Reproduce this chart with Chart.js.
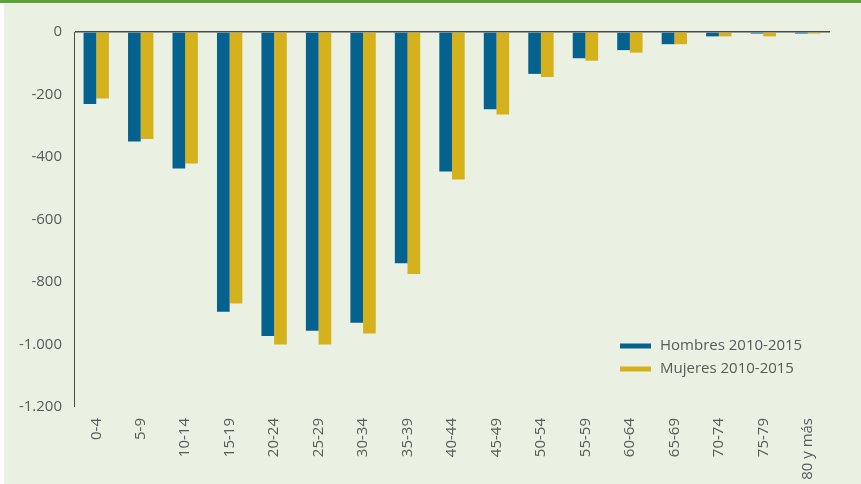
<!DOCTYPE html>
<html>
<head>
<meta charset="utf-8">
<script src="https://cdn.jsdelivr.net/npm/chart.js@4"></script>
<style>
  html, body { margin: 0; padding: 0; background: #ffffff; }
  #wrap { position: relative; width: 861px; height: 484px; background: #eaf0e2; overflow: hidden; }
  #topbar { position: absolute; left: 0; top: 0; width: 861px; height: 3px; background: #5ea33a; }
  #leftstrip { position: absolute; left: 0; top: 3px; width: 4px; height: 481px; background: #ffffff; }
  canvas { position: absolute; left: 0; top: 0; }
</style>
</head>
<body>
<div id="wrap">
  <canvas id="c" width="861" height="484"></canvas>
  <div id="topbar"></div>
  <div id="leftstrip"></div>
</div>
<script>
const categories = ["0-4","5-9","10-14","15-19","20-24","25-29","30-34","35-39","40-44","45-49","50-54","55-59","60-64","65-69","70-74","75-79","80 y más"];
const hombres = [-230,-350,-437,-895,-973,-956,-930,-740,-446,-247,-134,-84,-58,-39,-14,-5,-5];
const mujeres = [-213,-342,-421,-869,-1000,-1000,-965,-774,-472,-264,-144,-92,-66,-39,-14,-14,-5];
const seriesLabels = ["Hombres 2010-2015","Mujeres 2010-2015"];
const yTicks = { min: -1200, max: 0, step: 200 };

const BLUE = "#05628f";
const YELLOW = "#d5b11c";
const TEXT = "#5a5a5a";
const FONT = "'Open Sans', 'Noto Sans', sans-serif";

function fmt(v) {
  const s = Math.abs(v).toString().replace(/\B(?=(\d{3})+(?!\d))/g, ".");
  return (v < 0 ? "-" : "") + s;
}

const legendPlugin = {
  id: "customLegend",
  afterDraw(chart) {
    const ctx = chart.ctx;
    ctx.save();
    ctx.font = "15px " + FONT;
    ctx.textBaseline = "middle";
    ctx.textAlign = "left";
    chart.data.datasets.forEach((ds, i) => {
      const y = 346 + i * 23;
      ctx.fillStyle = ds.backgroundColor;
      ctx.fillRect(620, y - 2.5, 31, 5);
      ctx.fillStyle = TEXT;
      ctx.fillText(ds.label, 660, y);
    });
    ctx.restore();
  }
};

new Chart(document.getElementById("c"), {
  type: "bar",
  data: {
    labels: categories,
    datasets: [
      { label: seriesLabels[0], data: hombres, backgroundColor: BLUE, borderWidth: 0 },
      { label: seriesLabels[1], data: mujeres, backgroundColor: YELLOW, borderWidth: 0 }
    ]
  },
  options: {
    responsive: false,
    animation: false,
    devicePixelRatio: 1,
    layout: { padding: { top: 32, right: 31, bottom: 0, left: 0 } },
    plugins: { legend: { display: false }, tooltip: { enabled: false } },
    datasets: { bar: { categoryPercentage: 0.57, barPercentage: 1.0 } },
    scales: {
      x: {
        grid: { display: false, drawTicks: false },
        border: { display: false },
        ticks: {
          autoSkip: false, minRotation: 90, maxRotation: 90, padding: 11,
          color: TEXT, font: { family: FONT, size: 15 }
        },
        afterFit(scale) { scale.height = 77; }
      },
      y: {
        min: yTicks.min, max: yTicks.max,
        grid: {
          drawTicks: false,
          color: (c) => c.tick && c.tick.value === 0 ? "#4a4a4a" : "rgba(0,0,0,0)",
          lineWidth: (c) => c.tick && c.tick.value === 0 ? 1.5 : 0
        },
        border: { display: true, color: "#4a4a4a", width: 1 },
        ticks: {
          stepSize: yTicks.step, padding: 12, color: TEXT,
          font: { family: FONT, size: 15 },
          callback: (v) => fmt(v)
        },
        afterFit(scale) { scale.width = 74; }
      }
    }
  },
  plugins: [legendPlugin]
});
</script>
</body>
</html>
